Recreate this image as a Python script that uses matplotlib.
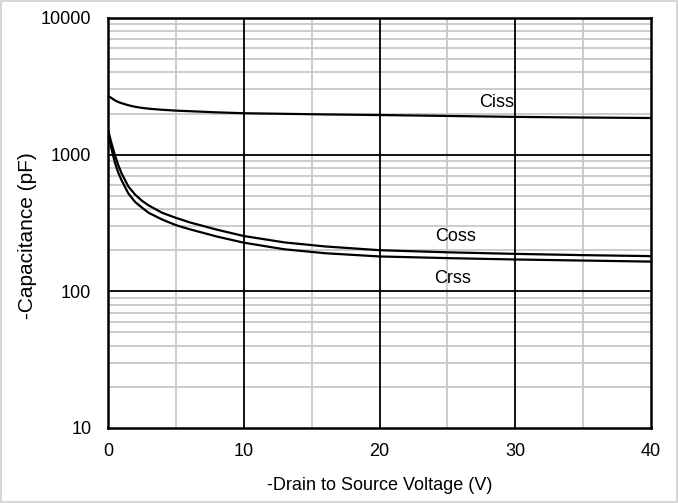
import numpy as np
import matplotlib.pyplot as plt
from matplotlib.ticker import FixedLocator, FuncFormatter, NullFormatter

plt.rcParams['font.family'] = ['Liberation Sans', 'DejaVu Sans']

# values
vds = [0, 0.25, 0.5, 0.75, 1, 1.5, 2, 2.5, 3, 4, 5, 6, 8, 10, 13, 16, 20, 25, 30, 35, 40]
ciss = [2690, 2600, 2500, 2430, 2380, 2300, 2240, 2200, 2170, 2130, 2100, 2080, 2040, 2010,
        1990, 1970, 1950, 1920, 1890, 1870, 1855]
coss = [1520, 1220, 1000, 840, 730, 585, 510, 460, 425, 375, 345, 320, 283, 254,
        228, 213, 200, 193, 188, 184, 181]
crss = [1480, 1110, 880, 740, 650, 520, 450, 410, 375, 335, 305, 285, 252, 227,
        203, 190, 180, 175, 171, 168, 165]

labels = {"Ciss": (28.6, 2420), "Coss": (25.6, 254), "Crss": (25.4, 125)}

fig = plt.figure(figsize=(6.78, 5.03), dpi=100)
ax = fig.add_axes([108 / 678, 1 - 428 / 503, 543 / 678, 410 / 503])

for y in (ciss, coss, crss):
    ax.plot(vds, y, color="black", lw=1.6, zorder=3)

ax.set_yscale("log")
ax.set_xlim(0, 40)
ax.set_ylim(10, 10000)

# light minor grid
minors = [m * 10 ** d for d in range(1, 4) for m in range(2, 10)]
for v in minors:
    ax.axhline(v, color="#c8c8c8", lw=1.3, zorder=1)
for v in (5, 15, 25, 35):
    ax.axvline(v, color="#c8c8c8", lw=1.3, zorder=1)
for v in (100, 1000):
    ax.axhline(v, color="black", lw=1.3, zorder=2)
for v in (10, 20, 30):
    ax.axvline(v, color="black", lw=1.3, zorder=2)

ax.yaxis.set_major_locator(FixedLocator([10, 100, 1000, 10000]))
ax.yaxis.set_major_formatter(FuncFormatter(lambda v, p: f"{int(v)}"))
ax.yaxis.set_minor_formatter(NullFormatter())
ax.set_xticks([0, 10, 20, 30, 40])
ax.tick_params(which="both", length=0, labelsize=13)
ax.tick_params(axis="y", pad=12)
ax.tick_params(axis="x", pad=11)

for s in ax.spines.values():
    s.set_linewidth(1.8)

for name, (x, y) in labels.items():
    ax.text(x, y, name, fontsize=13, ha="center", va="center", zorder=4)

ax.set_xlabel("-Drain to Source Voltage (V)", fontsize=13, labelpad=12)
ax.set_ylabel("-Capacitance (pF)", fontsize=15)
ax.yaxis.set_label_coords(-0.13, 0.47)

fig.patches.append(plt.Rectangle((0.002, 0.002), 0.996, 0.996, transform=fig.transFigure,
                                 fill=False, edgecolor="#d0d0d0", lw=1.2))

fig.savefig("out.png", dpi=100)
